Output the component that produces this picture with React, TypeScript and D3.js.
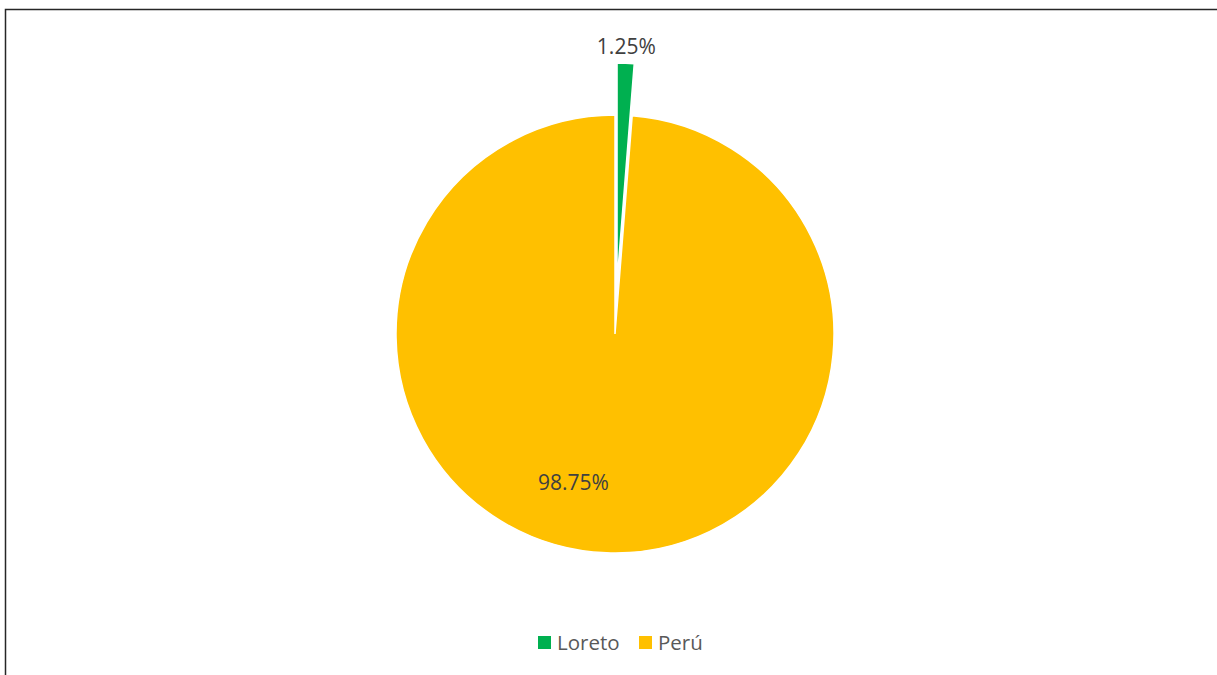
import React from "react";
import * as d3 from "d3";

const categories = ["Loreto", "Perú"];
const values = [1.25, 98.75];
const labels = ["1.25%", "98.75%"];
const colors = ["#00B050", "#FFC000"];

const W = 1217;
const H = 675;
const cx = 615;
const cy = 334;
const R = 219;
const explode = 52;

export default function App() {
  const pie = d3.pie<number>().sort(null).value((d) => d)(values);
  const arc = d3.arc<d3.PieArcDatum<number>>().innerRadius(0).outerRadius(R);
  const font = "'Open Sans', sans-serif";

  return (
    <svg width={W} height={H} style={{ position: "absolute", left: 0, top: 0 }}>
      <rect x={0} y={0} width={W} height={H} fill="#fff" />
      <rect x={5.5} y={9.5} width={W + 20} height={H + 20} fill="none" stroke="#262626" strokeWidth={1.5} />
      <g transform={`translate(${cx},${cy})`}>
        {pie.map((p, i) => {
          const mid = (p.startAngle + p.endAngle) / 2;
          const off = i === 0 ? explode : 0;
          const dx = Math.sin(mid) * off;
          const dy = -Math.cos(mid) * off;
          return (
            <path
              key={categories[i]}
              d={arc(p) || ""}
              transform={`translate(${dx},${dy})`}
              fill={colors[i]}
              stroke="#fff"
              strokeWidth={1.5}
            />
          );
        })}
        {pie.map((p, i) => {
          const mid = (p.startAngle + p.endAngle) / 2;
          let ang: number, rad: number;
          if (i === 0) {
            ang = mid;
            rad = R + explode + 17;
          } else {
            ang = mid + (13.5 * Math.PI) / 180;
            rad = R * 0.7;
          }
          const x = Math.sin(ang) * rad;
          const y = -Math.cos(ang) * rad;
          return (
            <text
              key={"l" + i}
              x={x}
              y={y}
              textAnchor="middle"
              dominantBaseline="central"
              fontFamily={font}
              fontSize={21}
              fill="#404040"
            >
              {labels[i]}
            </text>
          );
        })}
      </g>
      <g fontFamily={font} fontSize={20.5} fill="#595959">
        <rect x={538} y={636} width={13} height={13} fill={colors[0]} />
        <text x={557} y={650}>{categories[0]}</text>
        <rect x={639} y={636} width={13} height={13} fill={colors[1]} />
        <text x={658} y={650}>{categories[1]}</text>
      </g>
    </svg>
  );
}
